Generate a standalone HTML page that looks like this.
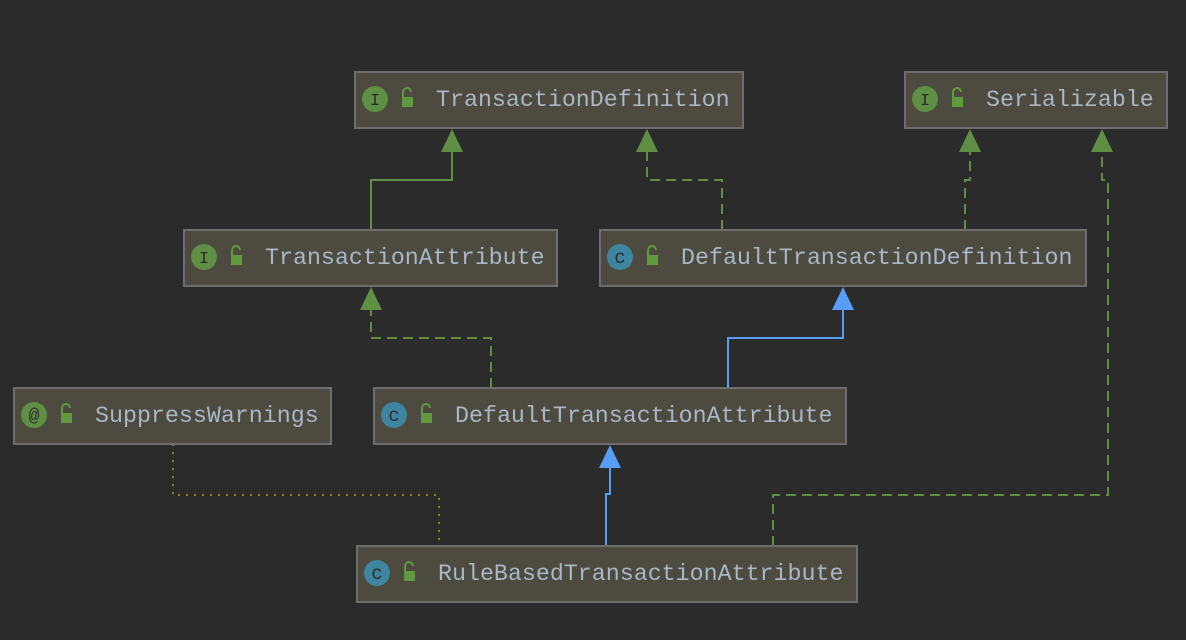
<!DOCTYPE html>
<html><head><style>
html,body{margin:0;padding:0;background:#2b2b2b;}
svg{display:block}
text{font-family:"Liberation Mono",monospace;}
</style></head><body>
<svg width="1186" height="640" viewBox="0 0 1186 640">
<rect width="1186" height="640" fill="#2b2b2b"/>
<g fill="none" stroke-width="2">
<polyline points="371,230 371,180 452,180 452,150" stroke="#5f8f45"/>
<polyline points="722,230 722,180 647,180 647,150" stroke="#5f8f45" stroke-dasharray="10,6"/>
<polyline points="965,230 965,180 970,180 970,150" stroke="#5f8f45" stroke-dasharray="10,6"/>
<polyline points="773,546 773,495 1108,495 1108,180 1102,180 1102,150" stroke="#5f8f45" stroke-dasharray="10,6"/>
<polyline points="491,388 491,338 371,338 371,308" stroke="#5f8f45" stroke-dasharray="10,6"/>
<polyline points="728,388 728,338 843,338 843,308" stroke="#589df6"/>
<polyline points="606,546 606,494 610,494 610,466" stroke="#589df6"/>
<polyline points="173,444 173,495 439,495 439,546" stroke="#8a8a1a" stroke-dasharray="2,6"/>
</g>
<g fill="#5f8f45">
<polygon points="452,129 441,152 463,152"/>
<polygon points="647,129 636,152 658,152"/>
<polygon points="970,129 959,152 981,152"/>
<polygon points="1102,129 1091,152 1113,152"/>
<polygon points="371,287 360,310 382,310"/>
</g>
<g fill="#589df6">
<polygon points="843,287 832,310 854,310"/>
<polygon points="610,445 599,468 621,468"/>
</g>
<g stroke="#6e6e6e" stroke-width="2" fill="#4d4a40">
<rect x="355" y="72" width="388" height="56"/>
<rect x="905" y="72" width="262" height="56"/>
<rect x="184" y="230" width="373" height="56"/>
<rect x="600" y="230" width="486" height="56"/>
<rect x="14" y="388" width="317" height="56"/>
<rect x="374" y="388" width="472" height="56"/>
<rect x="357" y="546" width="500" height="56"/>
</g>
<g font-size="23.3" fill="#a9b7c6">
<g transform="translate(355,72)"><circle cx="20" cy="27" r="13" fill="#5f8f45"/><text x="20" y="33" font-size="17" fill="#2b2b2b" text-anchor="middle">I</text><rect x="47" y="25" width="11" height="10" fill="#5f9a3e"/><path d="M48,25 v-5 a4,4 0 0 1 8,0" fill="none" stroke="#5f9a3e" stroke-width="2"/><text x="81" y="34">TransactionDefinition</text></g>
<g transform="translate(905,72)"><circle cx="20" cy="27" r="13" fill="#5f8f45"/><text x="20" y="33" font-size="17" fill="#2b2b2b" text-anchor="middle">I</text><rect x="47" y="25" width="11" height="10" fill="#5f9a3e"/><path d="M48,25 v-5 a4,4 0 0 1 8,0" fill="none" stroke="#5f9a3e" stroke-width="2"/><text x="81" y="34">Serializable</text></g>
<g transform="translate(184,230)"><circle cx="20" cy="27" r="13" fill="#5f8f45"/><text x="20" y="33" font-size="17" fill="#2b2b2b" text-anchor="middle">I</text><rect x="47" y="25" width="11" height="10" fill="#5f9a3e"/><path d="M48,25 v-5 a4,4 0 0 1 8,0" fill="none" stroke="#5f9a3e" stroke-width="2"/><text x="81" y="34">TransactionAttribute</text></g>
<g transform="translate(600,230)"><circle cx="20" cy="27" r="13" fill="#3e86a0"/><text x="20" y="33" font-size="19" fill="#2b2b2b" text-anchor="middle">c</text><rect x="47" y="25" width="11" height="10" fill="#5f9a3e"/><path d="M48,25 v-5 a4,4 0 0 1 8,0" fill="none" stroke="#5f9a3e" stroke-width="2"/><text x="81" y="34">DefaultTransactionDefinition</text></g>
<g transform="translate(14,388)"><circle cx="20" cy="27" r="13" fill="#5f8f45"/><text x="20" y="33" font-size="18" fill="#2b2b2b" text-anchor="middle">@</text><rect x="47" y="25" width="11" height="10" fill="#5f9a3e"/><path d="M48,25 v-5 a4,4 0 0 1 8,0" fill="none" stroke="#5f9a3e" stroke-width="2"/><text x="81" y="34">SuppressWarnings</text></g>
<g transform="translate(374,388)"><circle cx="20" cy="27" r="13" fill="#3e86a0"/><text x="20" y="33" font-size="19" fill="#2b2b2b" text-anchor="middle">c</text><rect x="47" y="25" width="11" height="10" fill="#5f9a3e"/><path d="M48,25 v-5 a4,4 0 0 1 8,0" fill="none" stroke="#5f9a3e" stroke-width="2"/><text x="81" y="34">DefaultTransactionAttribute</text></g>
<g transform="translate(357,546)"><circle cx="20" cy="27" r="13" fill="#3e86a0"/><text x="20" y="33" font-size="19" fill="#2b2b2b" text-anchor="middle">c</text><rect x="47" y="25" width="11" height="10" fill="#5f9a3e"/><path d="M48,25 v-5 a4,4 0 0 1 8,0" fill="none" stroke="#5f9a3e" stroke-width="2"/><text x="81" y="34">RuleBasedTransactionAttribute</text></g>
</g>
</svg>
</body></html>
